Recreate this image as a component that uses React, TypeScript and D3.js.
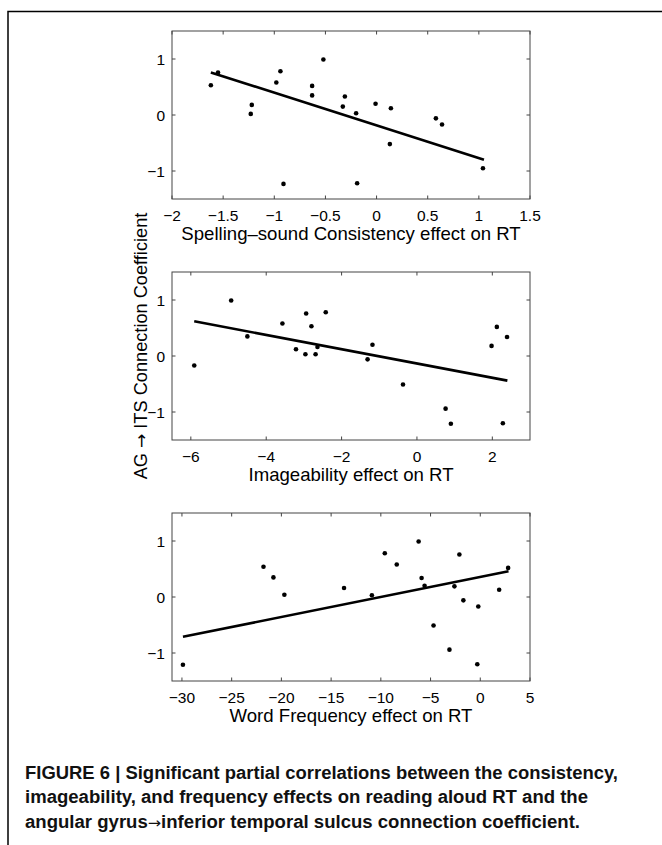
// Figure 6 — three scatter panels (AG → ITS coefficient vs. RT effects) with fit lines,
// MATLAB-style boxed axes with inward ticks, plus bold caption below.
import * as d3 from "d3";

// ---- data ----
const consistencyX = [-1.62, -1.55, -1.22, -1.23, -0.98, -0.94, -0.91, -0.63, -0.63, -0.52, -0.33, -0.31, -0.2, -0.19, -0.01, 0.14, 0.13, 0.58, 0.64, 1.04];
const consistencyY = [0.53, 0.76, 0.18, 0.02, 0.58, 0.78, -1.23, 0.52, 0.35, 0.99, 0.15, 0.33, 0.03, -1.22, 0.2, 0.12, -0.52, -0.06, -0.17, -0.95];
const consistencyFit = [[-1.62, 0.76], [1.05, -0.8]];
const consistencyTicks = [-2, -1.5, -1, -0.5, 0, 0.5, 1, 1.5];

const imageabilityX = [-5.91, -4.93, -4.5, -3.57, -3.21, -2.96, -2.94, -2.8, -2.69, -2.64, -2.42, -1.18, -1.31, -0.37, 0.76, 0.9, 1.98, 2.12, 2.28, 2.39];
const imageabilityY = [-0.17, 0.99, 0.35, 0.58, 0.12, 0.03, 0.76, 0.53, 0.03, 0.16, 0.78, 0.2, -0.06, -0.51, -0.94, -1.21, 0.18, 0.52, -1.2, 0.34];
const imageabilityFit = [[-5.91, 0.62], [2.4, -0.44]];
const imageabilityTicks = [-6, -4, -2, 0, 2];

const frequencyX = [-29.9, -21.8, -20.8, -19.7, -13.7, -10.9, -9.6, -8.4, -6.2, -5.9, -5.6, -4.7, -3.1, -2.6, -2.1, -1.7, -0.3, -0.2, 1.9, 2.8];
const frequencyY = [-1.21, 0.54, 0.35, 0.04, 0.16, 0.03, 0.78, 0.58, 0.99, 0.34, 0.2, -0.51, -0.94, 0.19, 0.76, -0.06, -1.2, -0.17, 0.13, 0.52];
const frequencyFit = [[-29.9, -0.71], [2.84, 0.46]];
const frequencyTicks = [-30, -25, -20, -15, -10, -5, 0, 5];

const yTicks = [-1, 0, 1];

const panels = [
  { xs: consistencyX, ys: consistencyY, fit: consistencyFit, ticks: consistencyTicks, domain: [-2, 1.5], title: "Spelling–sound Consistency effect on RT", top: 31 },
  { xs: imageabilityX, ys: imageabilityY, fit: imageabilityFit, ticks: imageabilityTicks, domain: [-6.5, 3], title: "Imageability effect on RT", top: 272 },
  { xs: frequencyX, ys: frequencyY, fit: frequencyFit, ticks: frequencyTicks, domain: [-31, 5], title: "Word Frequency effect on RT", top: 513 },
];

// caption pieces; the arrow gets its own font (Liberation has no proper →)
const captionLines = [
  ["FIGURE 6 | Significant partial correlations between the consistency,"],
  ["imageability, and frequency effects on reading aloud RT and the"],
  ["angular gyrus", "→", "inferior temporal sulcus connection coefficient."],
];
const captionEnds = [618, 588, 580];

const W = 662;
const H = 845;
const LEFT = 172;
const RIGHT = 530;
const PH = 168;
const TICK = 3.5;
const AXIS = "#444";
const FONT = "'Liberation Sans', Arial, Helvetica, sans-serif";
const ARROW_FONT = "'DejaVu Sans', sans-serif";

const fmt = (v: number) => String(v).replace("-", "\u2212");

function Panel({ p }: { p: (typeof panels)[number] }) {
  const x = d3.scaleLinear().domain(p.domain).range([LEFT, RIGHT]);
  const y = d3.scaleLinear().domain([-1.5, 1.5]).range([p.top + PH, p.top]);
  const bottom = p.top + PH;
  const line = d3
    .line<number[]>()
    .x((d) => x(d[0]))
    .y((d) => y(d[1]));

  return (
    <g>
      <rect x={LEFT} y={p.top} width={RIGHT - LEFT} height={PH} fill="none" stroke={AXIS} strokeWidth={1} />
      {/* inward ticks, mirrored on all four sides */}
      {p.ticks.map((t) => (
        <g key={"x" + t}>
          <line x1={x(t)} x2={x(t)} y1={bottom} y2={bottom - TICK} stroke={AXIS} />
          <line x1={x(t)} x2={x(t)} y1={p.top} y2={p.top + TICK} stroke={AXIS} />
          <text x={x(t)} y={bottom + 21.5} textAnchor="middle" fontSize={15.5} fontFamily={FONT} fill="#000">
            {fmt(t)}
          </text>
        </g>
      ))}
      {yTicks.map((t) => (
        <g key={"y" + t}>
          <line x1={LEFT} x2={LEFT + TICK} y1={y(t)} y2={y(t)} stroke={AXIS} />
          <line x1={RIGHT} x2={RIGHT - TICK} y1={y(t)} y2={y(t)} stroke={AXIS} />
          <text x={LEFT - 7} y={y(t) + 5.5} textAnchor="end" fontSize={15.5} fontFamily={FONT} fill="#000">
            {fmt(t)}
          </text>
        </g>
      ))}
      <path d={line(p.fit) ?? ""} fill="none" stroke="#000" strokeWidth={2.6} />
      {p.xs.map((v, i) => (
        <circle key={i} cx={x(v)} cy={y(p.ys[i])} r={2.3} fill="#000" />
      ))}
      <text x={(LEFT + RIGHT) / 2} y={bottom + 41} textAnchor="middle" fontSize={18.6} fontFamily={FONT} fill="#000">
        {p.title}
      </text>
    </g>
  );
}

export default function App() {
  return (
    <div style={{ position: "absolute", left: 0, top: 0 }}>
      <svg width={W} height={H} viewBox={`0 0 ${W} ${H}`} style={{ display: "block", background: "#fff" }}>
        <rect x={8} y={11.5} width={W + 20} height={H + 20} fill="none" stroke="#000" strokeWidth={1.5} />
        {panels.map((p) => (
          <Panel key={p.title} p={p} />
        ))}
        <text
          transform={`translate(147,346) rotate(-90)`}
          textAnchor="middle"
          fontSize={18.2}
          fontFamily={FONT}
          fill="#000"
        >
          AG <tspan fontFamily={ARROW_FONT} fontSize={17}>→</tspan> ITS Connection Coefficient
        </text>
        {captionLines.map((parts, i) => (
          <text
            key={i}
            x={25}
            y={778.5 + i * 24.5}
            fontSize={17.5}
            fontWeight="bold"
            fontFamily={FONT}
            textLength={captionEnds[i] - 25}
            lengthAdjust="spacingAndGlyphs"
            fill="#111"
          >
            {parts.map((s, j) =>
              s === "→" ? (
                <tspan key={j} fontFamily={ARROW_FONT} fontWeight="normal" fontSize={15}>
                  {s}
                </tspan>
              ) : (
                <tspan key={j}>{s}</tspan>
              ),
            )}
          </text>
        ))}
      </svg>
    </div>
  );
}
